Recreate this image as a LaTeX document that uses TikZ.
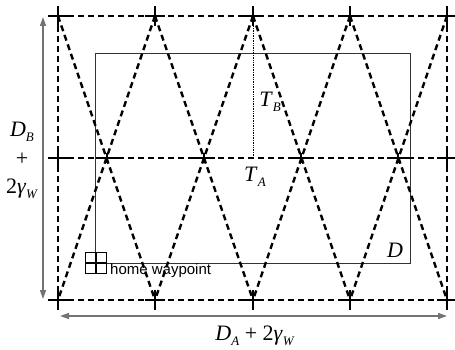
\documentclass[tikz,border=0pt]{standalone}
\usepackage{fontspec}
\setmainfont{Liberation Serif}
\newfontfamily\arialfont{Liberation Sans}
\usetikzlibrary{arrows.meta,calc}
\newcommand\itsub[2]{\textit{#1}\raisebox{-5pt}{\fontsize{13}{14}\selectfont\textit{#2}}}
\begin{document}
\begin{tikzpicture}[x=1pt,y=-1pt,
  path/.style={line width=2.4pt,dash pattern=on 6pt off 4pt,black},
  crossmark/.style={line width=2.4pt,black},
  dimarrow/.style={line width=1.4pt,gray!90!black,{Triangle[length=9pt,width=6pt]}-{Triangle[length=9pt,width=6pt]}},
  lbl/.style={inner sep=0pt,font=\fontsize{22}{25}\selectfont}]
\useasboundingbox (0,0) rectangle (455,350);
% coordinates
\foreach \i/\x in {0/58,1/155,2/253,3/350,4/447}{
  \coordinate (t\i) at (\x,16);
  \coordinate (b\i) at (\x,300);
}
\coordinate (ml) at (58,158);
\coordinate (mr) at (447,158);
\coordinate (tc) at (253,158);
% inner region D
\draw[line width=0.9pt,black!80] (95,53) rectangle (410,263);
% dashed frame
\draw[path] (t0) -- (t4);
\draw[path] (b0) -- (b4);
\draw[path] (ml) -- (mr);
\draw[path] (t0) -- (b0);
\draw[path] (t4) -- (b4);
% zigzag diagonals
\foreach \i/\j in {0/1,1/2,2/3,3/4}{
  \draw[path] (t\i) -- (b\j);
  \draw[path] (t\j) -- (b\i);
}
% crosses at corners/top/bottom
\foreach \i in {0,...,4}{
  \draw[crossmark] ($(t\i)+(-10,0)$) -- ($(t\i)+(10,0)$) ($(t\i)+(0,-10)$) -- ($(t\i)+(0,10)$);
  \draw[crossmark] ($(b\i)+(-10,0)$) -- ($(b\i)+(10,0)$) ($(b\i)+(0,-10)$) -- ($(b\i)+(0,10)$);
}
\draw[crossmark] ($(ml)+(-10,0)$) -- ($(ml)+(10,0)$) ($(ml)+(0,-10)$) -- ($(ml)+(0,10)$);
\draw[crossmark] ($(mr)+(-10,0)$) -- ($(mr)+(10,0)$) ($(mr)+(0,-10)$) -- ($(mr)+(0,10)$);
\foreach \x in {107,204,301,398}{
  \draw[crossmark] (\x-11,158) -- (\x+11,158) (\x,153) -- (\x,163);
}
% T_A / T_B
\draw[densely dotted,line width=0.7pt] (t2) -- (tc);
\node[lbl] (TB) at (270,102) {\itsub{T}{B}};
\node[lbl] (TA) at (255,177) {\itsub{T}{A}};
\node[lbl] (D) at (395,250) {\textit{D}};
% home waypoint
\node[draw,line width=0.8pt,minimum size=21pt,inner sep=0pt] (home) at (96,263) {};
\draw[line width=2.2pt] (home.north) -- (home.south) (home.west) -- (home.east);
\node[anchor=west,inner sep=0pt,font=\arialfont\fontsize{15}{17}\selectfont] (hw) at (110,271) {home waypoint};
% dimension arrows
\coordinate (la) at (43,17);
\coordinate (lb) at (43,299);
\draw[dimarrow] (lb) -- (la);
\coordinate (ba) at (60,316);
\coordinate (bb) at (447,316);
\draw[dimarrow] (ba) -- (bb);
\node[lbl,align=center] (DB) at (22,160) {\itsub{D}{B}\\[4pt]+\\[3pt]2\itsub{γ}{W}};
\node[lbl] (DA) at (255,336) {\itsub{D}{A} + 2\itsub{γ}{W}};
\end{tikzpicture}
\end{document}
